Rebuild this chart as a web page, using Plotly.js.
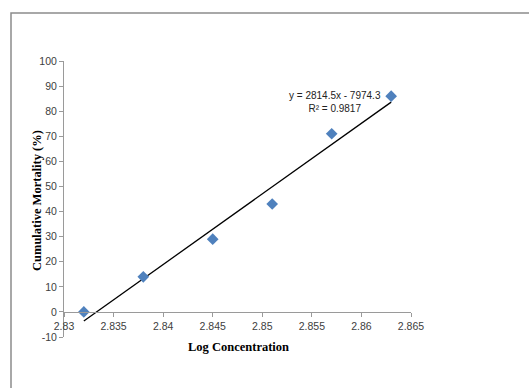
<!DOCTYPE html>
<html>
<head>
<meta charset="utf-8">
<script src="https://cdn.plot.ly/plotly-3.0.1.min.js"></script>
<style>html,body{margin:0;padding:0;background:#fff;}#chart{width:529px;height:388px;}</style>
</head>
<body>
<div id="chart"></div>
<script>
const logConc = [2.832, 2.838, 2.845, 2.851, 2.857, 2.863];
const mortality = [0, 14, 29, 43, 71, 86];
const slope = 2814.5;
const intercept = -7974.3;
const rSquared = 0.9817;
const xTicks = [2.83, 2.835, 2.84, 2.845, 2.85, 2.855, 2.86, 2.865];
const xTickLabels = ['2.83', '2.835', '2.84', '2.845', '2.85', '2.855', '2.86', '2.865'];
const yTicks = [-10, 0, 10, 20, 30, 40, 50, 60, 70, 80, 90, 100];
const yTickLabels = ['-10', '0', '10', '20', '30', '40', '50', '60', '70', '80', '90', '100'];

const xMin = Math.min(...logConc), xMax = Math.max(...logConc);
const trendX = [xMin, xMax];
const trendY = trendX.map(x => slope * x + intercept);

const tickFont = {family: 'Liberation Sans, Arial, sans-serif', size: 10.5, color: '#404040'};
const titleFont = {family: 'Liberation Serif, Times New Roman, serif', size: 12.5, color: '#000', weight: 'bold'};

const data = [
  {x: trendX, y: trendY, mode: 'lines', line: {color: '#000', width: 1.3}, hoverinfo: 'skip', showlegend: false},
  {x: logConc, y: mortality, mode: 'markers', marker: {symbol: 'diamond', size: 9, color: '#4F81BD'}, showlegend: false}
];

const layout = {
  width: 529, height: 388,
  margin: {l: 64, r: 118, t: 61, b: 51, pad: 0},
  paper_bgcolor: '#fff', plot_bgcolor: '#fff',
  showlegend: false,
  xaxis: {
    range: [2.83, 2.865], tickvals: xTicks, ticktext: xTickLabels,
    showgrid: false, zeroline: false, showline: true, linecolor: '#9a9a9a', linewidth: 1,
    ticks: 'outside', ticklen: 4, tickcolor: '#9a9a9a',
    anchor: 'free', position: 10 / 110,
    tickfont: tickFont
  },
  yaxis: {
    range: [-10, 100], tickvals: yTicks, ticktext: yTickLabels, domain: [0, 1],
    showgrid: false, zeroline: false, showline: true, linecolor: '#9a9a9a', linewidth: 1,
    ticks: 'outside', ticklen: 4, tickcolor: '#9a9a9a',
    tickfont: tickFont
  },
  annotations: [
    {xref: 'paper', yref: 'paper', x: (335 - 64) / 347, y: (337 - 102) / 276, text: 'y = 2814.5x - 7974.3<br>R² = ' + rSquared,
     showarrow: false, font: {family: 'Liberation Sans, Arial, sans-serif', size: 10, color: '#222'}, align: 'center', xanchor: 'center', yanchor: 'middle'},
    {xref: 'paper', yref: 'paper', x: (238 - 64) / 347, y: (337 - 347) / 276, text: 'Log Concentration',
     showarrow: false, font: titleFont, xanchor: 'center', yanchor: 'middle'},
    {xref: 'paper', yref: 'paper', x: (37 - 64) / 347, y: (337 - 201) / 276, text: 'Cumulative Mortality (%)',
     showarrow: false, font: titleFont, textangle: -90, xanchor: 'center', yanchor: 'middle'}
  ],
  shapes: [
    {type: 'rect', xref: 'paper', yref: 'paper', x0: (11 - 64) / 347, x1: 1.6, y0: -0.4, y1: (337 - 13) / 276,
     line: {color: '#8c8c8c', width: 1.5}, fillcolor: 'rgba(0,0,0,0)', layer: 'below'}
  ]
};

Plotly.newPlot('chart', data, layout, {displayModeBar: false, staticPlot: true});
</script>
</body>
</html>
